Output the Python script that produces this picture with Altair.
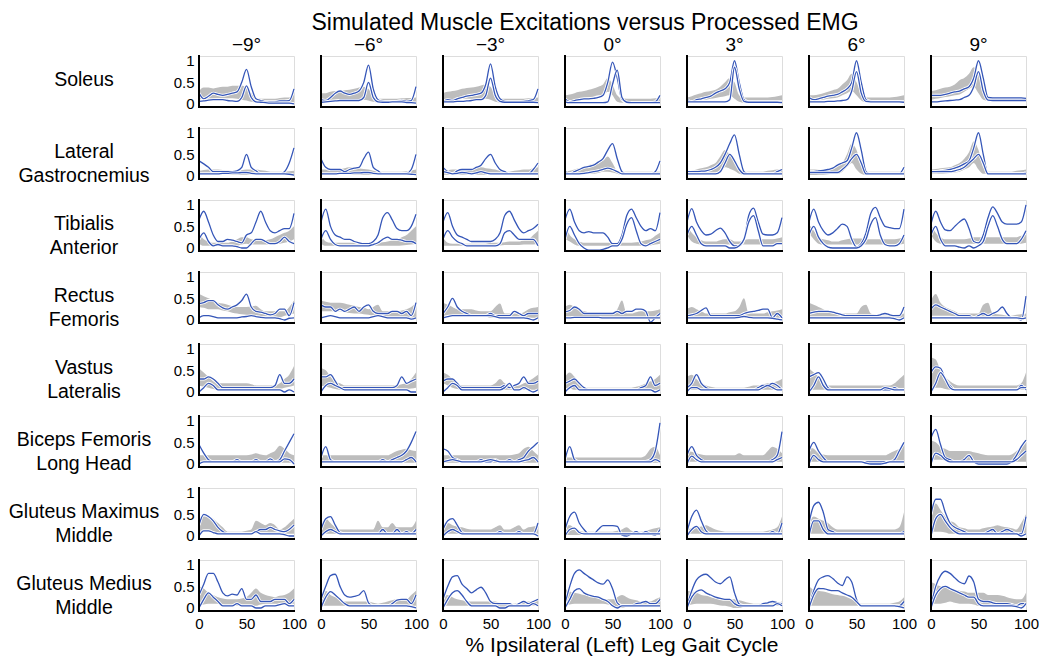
import altair as alt
import pandas as pd

FONT = "Liberation Sans"
PCT = list(range(0, 101, 5))
ANGLES = [-9, -6, -3, 0, 3, 6, 9]
MUSCLES = ["Soleus", "Lateral|Gastrocnemius", "Tibialis|Anterior", "Rectus|Femoris",
           "Vastus|Lateralis", "Biceps Femoris|Long Head", "Gluteus Maximus|Middle",
           "Gluteus Medius|Middle"]
TITLE = "Simulated Muscle Excitations versus Processed EMG"
XTITLE = "% Ipsilateral (Left) Leg Gait Cycle"
X_TICKS = [0, 50, 100]
Y_TICKS = [0, 0.5, 1]

# ---------------- Soleus ----------------
SOL_A = [
    [0.25,0.12,0.18,0.25,0.22,0.2,0.22,0.25,0.28,0.5,0.8,0.4,0.12,0.08,0.05,0.05,0.05,0.07,0.07,0.08,0.35],
    [0.1,0.08,0.15,0.25,0.3,0.25,0.22,0.25,0.3,0.5,0.9,0.35,0.1,0.06,0.05,0.05,0.06,0.08,0.06,0.08,0.4],
    [0.05,0.1,0.08,0.12,0.15,0.18,0.2,0.22,0.25,0.45,0.93,0.4,0.12,0.06,0.05,0.05,0.05,0.06,0.08,0.1,0.35],
    [0.12,0.05,0.08,0.1,0.12,0.12,0.13,0.15,0.2,0.5,0.97,0.6,0.1,0.04,0.03,0.03,0.03,0.03,0.03,0.05,0.2],
    [0.1,0.05,0.1,0.12,0.15,0.18,0.25,0.3,0.35,0.5,1.0,0.5,0.1,0.05,0.05,0.05,0.05,0.05,0.05,0.05,0.05],
    [0.15,0.1,0.12,0.15,0.18,0.2,0.22,0.28,0.35,0.5,1.0,0.5,0.1,0.06,0.05,0.05,0.05,0.05,0.05,0.05,0.05],
    [0.2,0.2,0.2,0.22,0.25,0.28,0.3,0.35,0.4,0.6,1.0,0.6,0.15,0.14,0.14,0.14,0.14,0.14,0.14,0.14,0.13],
]
SOL_B = [
    [0.06,0.07,0.09,0.1,0.1,0.1,0.08,0.07,0.06,0.15,0.42,0.15,0.05,0.04,0.03,0.02,0.02,0.02,0.02,0.02,0.0],
    [0.04,0.05,0.06,0.07,0.08,0.08,0.08,0.08,0.08,0.15,0.5,0.15,0.05,0.04,0.04,0.05,0.05,0.05,0.03,0.03,0.02],
    [0.05,0.05,0.05,0.06,0.06,0.07,0.08,0.1,0.1,0.2,0.6,0.2,0.06,0.04,0.04,0.04,0.04,0.04,0.04,0.04,0.03],
    [0.05,0.03,0.03,0.03,0.03,0.03,0.03,0.03,0.03,0.05,0.45,0.78,0.15,0.04,0.03,0.03,0.03,0.03,0.03,0.03,0.03],
    [0.05,0.05,0.05,0.05,0.05,0.05,0.05,0.05,0.05,0.1,0.85,0.35,0.06,0.04,0.04,0.04,0.04,0.04,0.04,0.04,0.03],
    [0.05,0.05,0.05,0.05,0.06,0.06,0.07,0.08,0.1,0.3,0.75,0.25,0.06,0.05,0.05,0.05,0.05,0.05,0.05,0.05,0.04],
    [0.05,0.05,0.06,0.07,0.08,0.09,0.1,0.15,0.2,0.4,0.75,0.3,0.09,0.08,0.08,0.08,0.08,0.08,0.08,0.08,0.08],
]
SOL_LO = [
    [0.1,0.12,0.12,0.12,0.13,0.13,0.13,0.13,0.12,0.1,0.08,0.05,0.03,0.03,0.03,0.03,0.03,0.03,0.03,0.03,0.04],
    [0.1,0.1,0.1,0.1,0.1,0.1,0.1,0.1,0.1,0.1,0.08,0.05,0.03,0.03,0.03,0.03,0.03,0.03,0.03,0.03,0.03],
    [0.1,0.1,0.1,0.1,0.12,0.12,0.12,0.12,0.12,0.12,0.1,0.05,0.03,0.03,0.03,0.03,0.03,0.03,0.03,0.03,0.03],
    [0.08,0.08,0.1,0.12,0.14,0.15,0.17,0.2,0.2,0.28,0.2,0.05,0.03,0.03,0.03,0.03,0.03,0.03,0.03,0.03,0.03],
    [0.05,0.06,0.08,0.1,0.1,0.12,0.14,0.16,0.18,0.2,0.12,0.05,0.03,0.03,0.03,0.03,0.03,0.03,0.03,0.03,0.03],
    [0.05,0.06,0.08,0.1,0.12,0.13,0.15,0.2,0.25,0.3,0.2,0.08,0.04,0.04,0.04,0.04,0.04,0.04,0.04,0.04,0.05],
    [0.1,0.12,0.14,0.16,0.18,0.2,0.22,0.28,0.35,0.4,0.25,0.1,0.08,0.08,0.08,0.08,0.08,0.08,0.08,0.08,0.08],
]
SOL_HI = [
    [0.3,0.38,0.38,0.36,0.38,0.4,0.4,0.42,0.42,0.42,0.38,0.25,0.15,0.12,0.12,0.12,0.12,0.14,0.15,0.15,0.3],
    [0.25,0.25,0.28,0.3,0.3,0.32,0.33,0.35,0.38,0.4,0.35,0.2,0.12,0.12,0.12,0.12,0.12,0.13,0.14,0.14,0.15],
    [0.25,0.28,0.3,0.32,0.35,0.37,0.38,0.4,0.43,0.45,0.4,0.2,0.12,0.12,0.12,0.12,0.12,0.12,0.13,0.14,0.15],
    [0.2,0.22,0.25,0.28,0.3,0.33,0.36,0.4,0.45,0.6,0.45,0.2,0.13,0.12,0.12,0.12,0.12,0.12,0.12,0.13,0.15],
    [0.15,0.18,0.22,0.25,0.28,0.3,0.33,0.4,0.5,0.6,0.5,0.2,0.15,0.15,0.15,0.15,0.15,0.15,0.16,0.18,0.2],
    [0.2,0.2,0.22,0.25,0.28,0.32,0.35,0.45,0.55,0.7,0.5,0.25,0.15,0.15,0.15,0.15,0.15,0.15,0.16,0.18,0.2],
    [0.3,0.32,0.35,0.38,0.4,0.45,0.55,0.6,0.7,0.85,0.7,0.3,0.15,0.15,0.15,0.15,0.15,0.15,0.15,0.15,0.15],
]

# ---------------- Lateral Gastrocnemius ----------------
LG_A = [
    [0.35,0.28,0.2,0.1,0.1,0.1,0.1,0.1,0.12,0.2,0.5,0.2,0.12,0.05,0.05,0.05,0.05,0.05,0.1,0.3,0.65],
    [0.4,0.2,0.15,0.15,0.15,0.1,0.15,0.18,0.2,0.4,0.55,0.2,0.12,0.05,0.05,0.05,0.05,0.05,0.06,0.15,0.5],
    [0.2,0.1,0.05,0.12,0.15,0.15,0.15,0.2,0.25,0.4,0.5,0.3,0.15,0.1,0.05,0.05,0.05,0.05,0.05,0.15,0.3],
    [0.1,0.05,0.1,0.15,0.2,0.22,0.25,0.32,0.4,0.6,0.75,0.4,0.1,0.05,0.05,0.05,0.05,0.05,0.05,0.1,0.35],
    [0.1,0.1,0.1,0.11,0.12,0.15,0.2,0.3,0.5,0.75,0.95,0.5,0.1,0.05,0.05,0.05,0.05,0.05,0.05,0.1,0.15],
    [0.1,0.1,0.12,0.13,0.15,0.18,0.25,0.3,0.35,0.65,1.0,0.6,0.1,0.05,0.05,0.05,0.05,0.05,0.05,0.05,0.2],
    [0.1,0.1,0.12,0.13,0.15,0.18,0.22,0.28,0.35,0.65,1.0,0.5,0.05,0.05,0.05,0.05,0.05,0.05,0.05,0.05,0.08],
]
LG_B = [
    [0.05,0.05,0.05,0.05,0.05,0.06,0.06,0.07,0.07,0.08,0.08,0.06,0.05,0.05,0.05,0.05,0.05,0.05,0.05,0.04,0.02],
    [0.05,0.05,0.05,0.05,0.06,0.06,0.06,0.07,0.07,0.08,0.08,0.06,0.05,0.05,0.05,0.05,0.05,0.05,0.05,0.04,0.03],
    [0.1,0.08,0.05,0.06,0.08,0.07,0.05,0.07,0.1,0.07,0.05,0.05,0.05,0.05,0.05,0.05,0.05,0.05,0.05,0.05,0.05],
    [0.05,0.05,0.05,0.05,0.06,0.08,0.1,0.12,0.15,0.18,0.15,0.1,0.05,0.05,0.05,0.05,0.05,0.05,0.05,0.05,0.05],
    [0.05,0.05,0.05,0.05,0.05,0.05,0.05,0.1,0.3,0.5,0.35,0.15,0.05,0.05,0.05,0.05,0.05,0.05,0.05,0.05,0.05],
    [0.08,0.08,0.08,0.08,0.08,0.08,0.08,0.15,0.25,0.4,0.5,0.3,0.05,0.05,0.05,0.05,0.05,0.05,0.05,0.05,0.05],
    [0.1,0.1,0.1,0.1,0.1,0.12,0.15,0.2,0.3,0.4,0.5,0.3,0.05,0.05,0.05,0.05,0.05,0.05,0.05,0.05,0.05],
]
LG_LO = [
    [0.03]*21,
    [0.03]*21,
    [0.03]*21,
    [0.02,0.02,0.03,0.03,0.04,0.05,0.05,0.07,0.1,0.1,0.08,0.05,0.02,0.02,0.02,0.02,0.02,0.02,0.02,0.02,0.02],
    [0.02,0.02,0.03,0.03,0.04,0.05,0.05,0.1,0.2,0.17,0.12,0.05,0.03,0.03,0.03,0.03,0.03,0.03,0.03,0.03,0.05],
    [0.02,0.02,0.03,0.03,0.04,0.05,0.05,0.1,0.2,0.3,0.15,0.05,0.02,0.02,0.02,0.02,0.02,0.02,0.02,0.02,0.02],
    [0.05,0.05,0.05,0.06,0.07,0.08,0.1,0.15,0.2,0.3,0.15,0.05,0.05,0.05,0.05,0.05,0.05,0.05,0.05,0.05,0.05],
]
LG_HI = [
    [0.12,0.14,0.15,0.15,0.15,0.14,0.13,0.12,0.12,0.13,0.15,0.15,0.15,0.13,0.12,0.1,0.1,0.1,0.1,0.11,0.12],
    [0.15,0.15,0.15,0.15,0.16,0.18,0.2,0.2,0.18,0.16,0.15,0.12,0.1,0.1,0.1,0.1,0.1,0.1,0.11,0.13,0.15],
    [0.12,0.13,0.15,0.15,0.15,0.17,0.18,0.2,0.2,0.18,0.17,0.15,0.12,0.1,0.1,0.12,0.13,0.15,0.15,0.18,0.2],
    [0.1,0.12,0.15,0.18,0.2,0.25,0.28,0.32,0.35,0.45,0.3,0.12,0.1,0.1,0.1,0.1,0.1,0.1,0.1,0.1,0.1],
    [0.1,0.12,0.15,0.18,0.2,0.25,0.3,0.45,0.6,0.5,0.4,0.15,0.1,0.1,0.1,0.1,0.1,0.12,0.13,0.15,0.15],
    [0.15,0.15,0.15,0.15,0.15,0.2,0.25,0.3,0.5,0.75,0.6,0.25,0.1,0.1,0.1,0.1,0.1,0.1,0.1,0.1,0.1],
    [0.15,0.16,0.18,0.19,0.2,0.25,0.3,0.4,0.55,0.8,0.6,0.2,0.1,0.1,0.1,0.1,0.1,0.1,0.12,0.13,0.15],
]

# ---------------- Tibialis Anterior ----------------
TA_A = [
    [0.65,0.85,0.6,0.3,0.15,0.15,0.2,0.18,0.15,0.12,0.3,0.35,0.6,0.85,0.6,0.4,0.35,0.4,0.45,0.45,0.8],
    [0.6,0.9,0.5,0.3,0.25,0.2,0.2,0.15,0.12,0.1,0.1,0.15,0.3,0.7,0.82,0.65,0.45,0.4,0.4,0.5,0.78],
    [0.6,0.82,0.5,0.3,0.25,0.2,0.15,0.15,0.15,0.15,0.15,0.2,0.35,0.75,0.85,0.65,0.45,0.35,0.4,0.45,0.55],
    [0.65,0.9,0.6,0.4,0.35,0.38,0.35,0.35,0.35,0.25,0.1,0.1,0.3,0.75,0.9,0.7,0.5,0.4,0.45,0.4,0.82],
    [0.6,0.91,0.6,0.4,0.3,0.32,0.4,0.46,0.35,0.15,0.05,0.05,0.2,0.75,0.92,0.6,0.32,0.3,0.3,0.35,0.7],
    [0.6,0.9,0.6,0.4,0.3,0.35,0.45,0.55,0.5,0.2,0.02,0.1,0.35,0.8,0.94,0.7,0.5,0.47,0.45,0.45,0.9],
    [0.55,0.85,0.6,0.42,0.4,0.5,0.6,0.67,0.45,0.15,0.12,0.3,0.7,0.95,0.8,0.6,0.55,0.55,0.55,0.6,1.0],
]
TA_B = [
    [0.2,0.35,0.15,0.05,0.08,0.05,0.05,0.05,0.03,0.0,0.0,0.1,0.2,0.2,0.15,0.1,0.1,0.15,0.25,0.15,0.1],
    [0.2,0.4,0.2,0.08,0.05,0.05,0.05,0.05,0.05,0.05,0.05,0.08,0.12,0.2,0.25,0.2,0.2,0.18,0.15,0.15,0.1],
    [0.2,0.4,0.25,0.15,0.1,0.05,0.05,0.05,0.05,0.05,0.05,0.05,0.1,0.35,0.4,0.3,0.2,0.2,0.2,0.2,0.05],
    [0.2,0.5,0.3,0.1,0.0,-0.05,-0.05,-0.05,-0.03,0.0,0.05,0.05,0.2,0.55,0.7,0.4,0.1,0.05,0.1,0.15,0.2],
    [0.3,0.5,0.3,0.1,0.05,0.05,0.05,0.05,0.05,0.0,0.0,0.05,0.2,0.6,0.75,0.4,0.05,0.05,0.05,0.1,0.1],
    [0.3,0.5,0.25,0.1,0.02,0.0,0.0,0.0,0.0,0.0,0.0,0.05,0.2,0.55,0.7,0.3,0.08,0.05,0.05,0.1,0.3],
    [0.3,0.5,0.2,0.05,0.05,0.05,0.02,0.0,0.05,0.0,0.05,0.15,0.5,0.75,0.5,0.2,0.1,0.1,0.1,0.2,0.4],
]
TA_LO = [
    [0.1,0.05,0.05,0.05,0.05,0.05,0.05,0.05,0.05,0.08,0.1,0.08,0.08,0.08,0.08,0.08,0.1,0.1,0.12,0.15,0.2],
    [0.1,0.05,0.05,0.05,0.05,0.05,0.05,0.05,0.05,0.05,0.05,0.05,0.05,0.05,0.05,0.05,0.05,0.06,0.07,0.08,0.1],
    [0.05,0.05,0.05,0.05,0.05,0.05,0.05,0.05,0.05,0.05,0.06,0.06,0.06,0.07,0.07,0.07,0.07,0.08,0.08,0.08,0.1],
    [0.2,0.15,0.08,0.05,0.05,0.05,0.05,0.05,0.05,0.05,0.05,0.05,0.05,0.05,0.05,0.05,0.05,0.05,0.06,0.08,0.1],
    [0.3,0.15,0.1,0.08,0.08,0.08,0.08,0.08,0.08,0.08,0.08,0.08,0.08,0.08,0.08,0.08,0.08,0.08,0.08,0.08,0.1],
    [0.35,0.2,0.1,0.08,0.08,0.08,0.08,0.08,0.08,0.08,0.08,0.08,0.08,0.08,0.08,0.08,0.08,0.08,0.08,0.08,0.1],
    [0.3,0.15,0.1,0.1,0.1,0.1,0.1,0.1,0.1,0.1,0.1,0.1,0.1,0.1,0.1,0.1,0.1,0.1,0.1,0.1,0.12],
]
TA_HI = [
    [0.35,0.2,0.15,0.12,0.12,0.12,0.12,0.15,0.2,0.25,0.25,0.2,0.18,0.18,0.18,0.2,0.25,0.3,0.35,0.4,0.5],
    [0.3,0.15,0.12,0.12,0.12,0.12,0.12,0.12,0.12,0.12,0.12,0.12,0.12,0.13,0.15,0.18,0.2,0.25,0.3,0.4,0.5],
    [0.25,0.12,0.1,0.1,0.1,0.1,0.1,0.1,0.1,0.1,0.12,0.12,0.12,0.13,0.15,0.15,0.15,0.18,0.2,0.3,0.4],
    [0.5,0.3,0.2,0.15,0.12,0.12,0.12,0.12,0.12,0.12,0.12,0.12,0.12,0.12,0.12,0.13,0.15,0.18,0.2,0.28,0.35],
    [0.5,0.35,0.25,0.18,0.15,0.15,0.15,0.18,0.2,0.2,0.15,0.15,0.18,0.2,0.2,0.2,0.2,0.2,0.2,0.22,0.25],
    [0.55,0.4,0.25,0.2,0.18,0.15,0.15,0.18,0.2,0.22,0.22,0.22,0.2,0.2,0.2,0.2,0.2,0.2,0.2,0.22,0.25],
    [0.55,0.35,0.25,0.2,0.2,0.2,0.2,0.2,0.22,0.25,0.25,0.25,0.25,0.25,0.25,0.25,0.25,0.25,0.25,0.28,0.3],
]

# ---------------- Rectus Femoris ----------------
RF_A = [
    [0.38,0.4,0.45,0.45,0.35,0.28,0.25,0.3,0.35,0.45,0.6,0.3,0.2,0.18,0.15,0.12,0.15,0.25,0.25,0.1,0.4],
    [0.35,0.3,0.3,0.2,0.25,0.2,0.25,0.3,0.2,0.3,0.35,0.2,0.15,0.15,0.15,0.2,0.2,0.15,0.2,0.1,0.4],
    [0.15,0.3,0.5,0.3,0.2,0.15,0.1,0.1,0.1,0.1,0.15,0.1,0.1,0.1,0.1,0.2,0.15,0.1,0.15,0.15,0.15],
    [0.19,0.22,0.3,0.25,0.15,0.15,0.15,0.15,0.15,0.15,0.15,0.2,0.15,0.2,0.2,0.25,0.25,0.2,-0.05,0.05,0.15],
    [0.1,0.12,0.15,0.22,0.28,0.1,0.1,0.1,0.1,0.1,0.1,0.1,0.15,0.18,0.2,0.22,0.25,0.25,0.05,0.15,0.05],
    [0.15,0.18,0.2,0.2,0.2,0.18,0.15,0.12,0.1,0.1,0.1,0.1,0.1,0.1,0.1,0.12,0.15,0.12,0.1,0.1,0.3],
    [0.25,0.35,0.3,0.25,0.2,0.15,0.1,0.1,0.1,0.05,0.1,0.15,0.1,0.15,0.2,0.3,0.15,0.05,0.05,0.0,0.55],
]
RF_B = [
    [0.05,0.1,0.1,0.08,0.05,0.05,0.05,0.05,0.05,0.07,0.08,0.1,0.08,0.06,0.05,0.05,0.05,0.03,0.0,0.04,0.05],
    [0.05,0.08,0.1,0.08,0.05,0.05,0.05,0.05,0.05,0.05,0.05,0.08,0.1,0.08,0.05,0.05,0.05,0.05,0.05,0.02,0.05],
    [0.05,0.08,0.1,0.1,0.1,0.1,0.1,0.1,0.1,0.1,0.1,0.08,0.05,0.05,0.05,0.05,0.05,0.05,0.03,0.0,0.05],
    [0.05,0.05,0.06,0.06,0.06,0.06,0.06,0.06,0.05,0.05,0.05,0.05,0.05,0.05,0.05,0.05,0.05,0.05,0.05,0.05,0.05],
    [0.05,0.05,0.05,0.05,0.05,0.05,0.05,0.05,0.05,0.05,0.05,0.06,0.08,0.06,0.05,0.05,0.05,0.05,0.04,0.02,0.0],
    [0.05,0.05,0.05,0.05,0.05,0.05,0.05,0.05,0.05,0.05,0.05,0.05,0.05,0.05,0.05,0.05,0.05,0.05,0.03,0.0,0.05],
    [0.05,0.05,0.05,0.05,0.05,0.05,0.05,0.05,0.05,0.05,0.05,0.05,0.05,0.05,0.05,0.05,0.05,0.05,0.05,0.03,0.05],
]
RF_LO = [
    [0.3,0.28,0.25,0.25,0.25,0.22,0.2,0.17,0.15,0.13,0.12,0.11,0.1,0.09,0.08,0.07,0.05,0.06,0.1,0.12,0.15],
    [0.2,0.2,0.2,0.2,0.2,0.18,0.16,0.15,0.15,0.13,0.12,0.1,0.1,0.08,0.07,0.06,0.05,0.05,0.05,0.05,0.05],
    [0.1,0.1,0.1,0.1,0.1,0.1,0.1,0.1,0.1,0.08,0.05,0.05,0.05,0.05,0.05,0.05,0.05,0.05,0.05,0.05,0.05],
    [0.05]*21,
    [0.05]*21,
    [0.05]*21,
    [0.1,0.1,0.1,0.1,0.1,0.08,0.06,0.05,0.05,0.05,0.05,0.05,0.05,0.05,0.05,0.05,0.05,0.05,0.05,0.05,0.05],
]
RF_HI = [
    [0.6,0.55,0.5,0.45,0.4,0.38,0.35,0.32,0.3,0.3,0.3,0.32,0.33,0.25,0.2,0.2,0.2,0.2,0.2,0.3,0.45],
    [0.45,0.42,0.4,0.4,0.4,0.38,0.35,0.33,0.3,0.28,0.25,0.3,0.35,0.2,0.2,0.2,0.2,0.22,0.25,0.3,0.4],
    [0.4,0.35,0.3,0.25,0.25,0.25,0.25,0.22,0.2,0.2,0.2,0.3,0.38,0.15,0.15,0.15,0.15,0.18,0.25,0.28,0.3],
    [0.3,0.35,0.3,0.25,0.2,0.18,0.15,0.15,0.15,0.15,0.15,0.25,0.45,0.15,0.15,0.18,0.2,0.2,0.2,0.22,0.25],
    [0.25,0.3,0.25,0.2,0.15,0.15,0.15,0.15,0.15,0.18,0.2,0.3,0.5,0.15,0.15,0.15,0.15,0.18,0.2,0.22,0.25],
    [0.4,0.35,0.3,0.25,0.2,0.18,0.15,0.15,0.15,0.15,0.15,0.3,0.35,0.15,0.12,0.1,0.1,0.1,0.12,0.13,0.15],
    [0.45,0.6,0.4,0.3,0.25,0.2,0.15,0.15,0.15,0.15,0.15,0.35,0.4,0.15,0.13,0.12,0.1,0.1,0.12,0.13,0.15],
]

# ---------------- Vastus Lateralis ----------------
VL_A = [
    [0.3,0.3,0.35,0.3,0.2,0.1,0.1,0.1,0.1,0.1,0.1,0.1,0.1,0.1,0.1,0.1,0.15,0.4,0.2,0.2,0.3],
    [0.35,0.35,0.4,0.25,0.1,0.1,0.1,0.1,0.1,0.1,0.1,0.1,0.1,0.1,0.1,0.1,0.15,0.35,0.2,0.25,0.3],
    [0.25,0.3,0.3,0.2,0.1,0.1,0.1,0.1,0.1,0.1,0.1,0.1,0.1,0.15,0.1,0.15,0.2,0.35,0.2,0.2,0.25],
    [0.2,0.25,0.3,0.2,0.1,0.05,0.05,0.05,0.05,0.05,0.05,0.05,0.05,0.05,0.05,0.05,0.1,0.15,0.35,0.15,0.2],
    [0.1,0.2,0.4,0.2,0.1,0.05,0.05,0.05,0.05,0.05,0.05,0.05,0.05,0.05,0.05,0.1,0.15,0.15,0.2,0.15,0.05],
    [0.35,0.4,0.45,0.3,0.1,0.05,0.05,0.05,0.05,0.05,0.05,0.05,0.05,0.05,0.05,0.05,0.05,0.05,0.1,0.05,0.05],
    [0.45,0.58,0.55,0.3,0.15,0.05,0.05,0.05,0.05,0.05,0.05,0.05,0.05,0.05,0.05,0.05,0.05,0.05,0.05,0.15,0.05],
]
VL_B = [
    [0.0,0.1,0.2,0.15,0.05,0.05,0.05,0.05,0.05,0.05,0.05,0.05,0.05,0.05,0.05,0.05,0.05,0.05,0.0,0.05,0.0],
    [0.0,0.15,0.2,0.15,0.1,0.05,0.05,0.05,0.05,0.05,0.05,0.05,0.05,0.05,0.05,0.05,0.05,0.05,0.05,0.0,0.0],
    [0.0,0.1,0.2,0.15,0.05,0.05,0.05,0.05,0.05,0.05,0.05,0.05,0.05,0.1,0.2,0.05,0.05,0.1,0.05,0.0,0.05],
    [0.0,0.1,0.15,0.05,0.05,0.05,0.05,0.05,0.05,0.05,0.05,0.05,0.05,0.05,0.05,0.05,0.05,0.05,0.05,0.0,0.05],
    [0.0,0.1,0.1,0.05,0.05,0.05,0.05,0.05,0.05,0.05,0.05,0.05,0.05,0.05,0.05,0.05,0.1,0.15,0.1,0.05,0.05],
    [0.0,0.15,0.35,0.15,0.05,0.05,0.05,0.05,0.05,0.05,0.05,0.05,0.05,0.05,0.05,0.05,0.1,0.08,0.05,0.05,0.05],
    [0.0,0.2,0.45,0.3,0.1,0.05,0.05,0.05,0.05,0.05,0.05,0.05,0.05,0.05,0.05,0.05,0.05,0.05,0.05,0.1,0.1],
]
VL_LO = [
    [0.15,0.12,0.1,0.07,0.05,0.05,0.05,0.05,0.05,0.05,0.05,0.05,0.05,0.05,0.05,0.05,0.05,0.07,0.1,0.12,0.15],
    [0.15,0.12,0.1,0.07,0.05,0.05,0.05,0.05,0.05,0.05,0.05,0.05,0.05,0.05,0.05,0.05,0.05,0.06,0.07,0.08,0.1],
    [0.2,0.15,0.1,0.07,0.05,0.05,0.05,0.05,0.05,0.05,0.05,0.05,0.05,0.05,0.05,0.05,0.05,0.05,0.05,0.05,0.05],
    [0.1,0.08,0.05,0.05,0.05,0.05,0.05,0.05,0.05,0.05,0.05,0.05,0.05,0.05,0.05,0.05,0.05,0.05,0.05,0.05,0.05],
    [0.05]*21,
    [0.05]*21,
    [0.1,0.1,0.1,0.07,0.05,0.05,0.05,0.05,0.05,0.05,0.05,0.05,0.05,0.05,0.05,0.05,0.05,0.05,0.05,0.05,0.05],
]
VL_HI = [
    [0.55,0.45,0.35,0.25,0.2,0.2,0.2,0.2,0.2,0.2,0.2,0.18,0.15,0.15,0.15,0.15,0.15,0.2,0.3,0.4,0.6],
    [0.55,0.5,0.35,0.25,0.2,0.15,0.15,0.15,0.15,0.15,0.15,0.15,0.15,0.15,0.15,0.15,0.15,0.18,0.2,0.3,0.45],
    [0.45,0.4,0.3,0.2,0.15,0.15,0.15,0.15,0.15,0.15,0.15,0.2,0.3,0.2,0.15,0.15,0.15,0.2,0.25,0.32,0.4],
    [0.35,0.45,0.35,0.2,0.1,0.1,0.1,0.1,0.1,0.1,0.1,0.1,0.1,0.1,0.1,0.12,0.15,0.2,0.25,0.3,0.4],
    [0.35,0.4,0.3,0.2,0.15,0.12,0.1,0.1,0.1,0.1,0.1,0.1,0.1,0.12,0.15,0.15,0.18,0.2,0.22,0.25,0.3],
    [0.55,0.45,0.35,0.2,0.15,0.15,0.15,0.15,0.15,0.15,0.15,0.15,0.15,0.15,0.15,0.15,0.15,0.15,0.2,0.3,0.4],
    [0.8,0.75,0.5,0.35,0.25,0.18,0.15,0.15,0.15,0.15,0.15,0.15,0.15,0.15,0.15,0.15,0.15,0.15,0.15,0.2,0.45],
]

# ---------------- Biceps Femoris Long Head ----------------
BF_A = [
    [0.45,0.25,0.1,0.05,0.05,0.05,0.05,0.05,0.1,0.05,0.05,0.05,0.1,0.05,0.05,0.12,0.05,0.1,0.3,0.5,0.7],
    [0.15,0.4,0.1,0.05,0.05,0.05,0.05,0.05,0.05,0.05,0.05,0.05,0.05,0.1,0.05,0.1,0.15,0.2,0.3,0.5,0.75],
    [0.35,0.3,0.15,0.1,0.05,0.05,0.05,0.05,0.1,0.05,0.05,0.1,0.05,0.05,0.1,0.05,0.1,0.15,0.3,0.4,0.5],
    [0.1,0.4,0.1,0.05,0.05,0.05,0.05,0.05,0.05,0.05,0.05,0.05,0.05,0.05,0.05,0.05,0.05,0.06,0.1,0.3,0.95],
    [0.2,0.4,0.2,0.1,0.05,0.05,0.05,0.05,0.05,0.05,0.05,0.05,0.05,0.05,0.05,0.05,0.05,0.05,0.1,0.2,0.75],
    [0.3,0.5,0.3,0.15,0.05,0.05,0.05,0.05,0.05,0.05,0.05,0.05,0.05,0.05,0.05,0.05,0.05,0.05,0.1,0.3,0.5],
    [0.6,0.8,0.45,0.15,0.1,0.05,0.05,0.1,0.2,0.05,0.0,0.0,0.0,0.0,0.0,0.0,0.0,0.05,0.2,0.4,0.55],
]
BF_B = [
    [0.0,0.05,0.05,0.05,0.05,0.05,0.05,0.05,0.05,0.05,0.05,0.05,0.05,0.05,0.05,0.05,0.05,0.05,0.12,0.1,0.0],
    [0.05,0.05,0.05,0.05,0.05,0.05,0.05,0.05,0.05,0.05,0.05,0.05,0.05,0.05,0.05,0.05,0.05,0.05,0.1,0.15,0.05],
    [0.05,0.08,0.1,0.08,0.05,0.05,0.05,0.05,0.05,0.08,0.1,0.08,0.05,0.05,0.05,0.05,0.05,0.08,0.1,0.15,0.05],
    [0.05,0.05,0.05,0.05,0.05,0.05,0.05,0.05,0.05,0.05,0.05,0.05,0.05,0.05,0.05,0.05,0.05,0.05,0.05,0.1,0.05],
    [0.0,0.18,0.1,0.05,0.05,0.05,0.05,0.05,0.05,0.05,0.05,0.05,0.05,0.05,0.05,0.05,0.05,0.05,0.05,0.1,0.15],
    [0.0,0.2,0.1,0.05,0.05,0.05,0.05,0.05,0.05,0.05,0.05,0.05,0.02,0.0,0.0,0.0,0.02,0.05,0.05,0.05,0.05],
    [0.0,0.25,0.2,0.1,0.05,0.05,0.05,0.05,0.05,0.05,0.05,0.05,0.05,0.05,0.05,0.05,0.05,0.05,0.1,0.2,0.3],
]
BF_LO = [
    [0.03]*21,
    [0.03]*21,
    [0.03]*21,
    [0.03]*21,
    [0.05]*21,
    [0.05]*21,
    [0.1,0.1,0.1,0.08,0.05,0.05,0.05,0.05,0.05,0.05,0.05,0.05,0.05,0.05,0.05,0.05,0.05,0.05,0.05,0.05,0.05],
]
BF_HI = [
    [0.2,0.2,0.2,0.2,0.2,0.2,0.2,0.2,0.2,0.2,0.2,0.22,0.25,0.22,0.2,0.25,0.3,0.42,0.35,0.25,0.2],
    [0.2,0.2,0.2,0.2,0.2,0.2,0.2,0.2,0.2,0.2,0.2,0.2,0.2,0.2,0.2,0.25,0.3,0.33,0.35,0.32,0.3],
    [0.2,0.2,0.2,0.2,0.2,0.2,0.2,0.2,0.2,0.2,0.2,0.2,0.2,0.2,0.2,0.22,0.25,0.35,0.4,0.3,0.2],
    [0.15,0.15,0.15,0.15,0.15,0.15,0.15,0.15,0.15,0.15,0.15,0.15,0.15,0.15,0.15,0.15,0.15,0.2,0.35,0.4,0.2],
    [0.3,0.28,0.25,0.22,0.2,0.2,0.2,0.2,0.2,0.2,0.2,0.25,0.2,0.2,0.2,0.2,0.2,0.3,0.4,0.35,0.25],
    [0.4,0.35,0.25,0.22,0.2,0.2,0.2,0.2,0.2,0.2,0.2,0.2,0.2,0.2,0.2,0.2,0.2,0.25,0.3,0.35,0.45],
    [0.55,0.5,0.4,0.35,0.3,0.3,0.3,0.3,0.3,0.27,0.25,0.22,0.2,0.2,0.2,0.2,0.2,0.22,0.3,0.4,0.5],
]

# ---------------- Gluteus Maximus Middle ----------------
GX_A = [
    [0.25,0.5,0.45,0.35,0.2,0.1,0.05,0.05,0.05,0.05,0.05,0.05,0.1,0.15,0.15,0.2,0.15,0.12,0.1,0.15,0.25],
    [0.15,0.4,0.45,0.25,0.08,0.05,0.05,0.05,0.05,0.05,0.05,0.05,0.05,0.15,0.05,0.05,0.15,0.05,0.1,0.05,0.15],
    [0.15,0.35,0.4,0.25,0.08,0.05,0.05,0.05,0.05,0.05,0.05,0.05,0.1,0.05,0.05,0.05,0.1,0.05,0.05,0.05,0.3],
    [0.15,0.45,0.55,0.3,0.15,0.05,0.05,0.15,0.24,0.24,0.24,0.22,0.02,0.0,0.05,0.1,0.05,0.1,0.05,0.02,0.15],
    [0.1,0.45,0.6,0.35,0.12,0.05,0.05,0.05,0.05,0.05,0.05,0.05,0.05,0.05,0.05,0.05,0.05,0.05,0.1,0.05,0.3],
    [0.3,0.7,0.78,0.55,0.15,0.1,0.05,0.05,0.05,0.05,0.05,0.05,0.05,0.05,0.05,0.05,0.05,0.05,0.05,0.05,0.1],
    [0.5,0.85,0.85,0.55,0.3,0.2,0.15,0.1,0.05,0.05,0.05,0.05,0.1,0.15,0.05,0.1,0.15,0.1,0.05,0.05,0.45],
]
GX_B = [
    [0.0,0.12,0.12,0.08,0.05,0.05,0.05,0.05,0.05,0.05,0.05,0.05,0.1,0.05,0.05,0.05,0.05,0.05,0.03,0.0,0.0],
    [0.0,0.1,0.15,0.1,0.05,0.05,0.05,0.05,0.05,0.05,0.05,0.05,0.05,0.05,0.05,0.05,0.05,0.05,0.05,0.05,0.05],
    [0.0,0.1,0.15,0.1,0.05,0.05,0.05,0.05,0.05,0.05,0.05,0.05,0.05,0.05,0.05,0.05,0.05,0.05,0.05,0.05,0.0],
    [0.0,0.15,0.18,0.08,0.05,0.05,0.05,0.05,0.05,0.05,0.05,0.05,0.05,0.05,0.05,0.05,0.05,0.05,0.05,0.05,0.05],
    [0.0,0.15,0.22,0.1,0.05,0.05,0.05,0.05,0.05,0.05,0.05,0.05,0.05,0.05,0.05,0.05,0.05,0.05,0.05,0.05,0.05],
    [0.0,0.35,0.35,0.15,0.05,0.05,0.05,0.05,0.05,0.05,0.05,0.05,0.05,0.05,0.05,0.05,0.05,0.05,0.05,0.05,0.05],
    [0.0,0.4,0.5,0.35,0.2,0.1,0.05,0.05,0.05,0.05,0.05,0.05,0.05,0.05,0.05,0.05,0.05,0.05,0.05,0.0,0.05],
]
GX_LO = [
    [0.02,0.1,0.1,0.08,0.05,0.05,0.05,0.05,0.05,0.05,0.05,0.05,0.06,0.08,0.08,0.06,0.05,0.05,0.05,0.05,0.05],
    [0.05]*21,
    [0.05]*21,
    [0.02]*21,
    [0.05]*21,
    [0.05]*21,
    [0.1,0.1,0.1,0.08,0.05,0.05,0.05,0.05,0.05,0.05,0.05,0.05,0.05,0.05,0.05,0.05,0.05,0.05,0.05,0.05,0.05],
]
GX_HI = [
    [0.35,0.45,0.45,0.4,0.3,0.2,0.1,0.1,0.1,0.1,0.12,0.15,0.35,0.3,0.25,0.3,0.25,0.15,0.2,0.3,0.4],
    [0.25,0.4,0.3,0.2,0.15,0.15,0.15,0.15,0.15,0.15,0.15,0.15,0.35,0.2,0.2,0.3,0.2,0.2,0.2,0.2,0.35],
    [0.3,0.3,0.25,0.22,0.2,0.17,0.15,0.15,0.15,0.15,0.15,0.2,0.25,0.15,0.15,0.2,0.25,0.15,0.2,0.22,0.25],
    [0.25,0.25,0.18,0.12,0.1,0.1,0.1,0.1,0.1,0.1,0.1,0.12,0.15,0.2,0.12,0.1,0.1,0.12,0.15,0.18,0.2],
    [0.15,0.18,0.2,0.22,0.25,0.2,0.15,0.12,0.1,0.1,0.1,0.1,0.1,0.1,0.1,0.1,0.1,0.12,0.15,0.2,0.45],
    [0.3,0.45,0.4,0.35,0.3,0.2,0.15,0.15,0.15,0.15,0.15,0.15,0.15,0.15,0.15,0.15,0.15,0.15,0.15,0.2,0.55],
    [0.55,0.75,0.6,0.45,0.35,0.3,0.2,0.18,0.15,0.15,0.15,0.18,0.2,0.22,0.25,0.22,0.2,0.18,0.15,0.3,0.5],
]

# ---------------- Gluteus Medius Middle ----------------
GD_A = [
    [0.3,0.55,0.8,0.8,0.6,0.35,0.28,0.32,0.3,0.45,0.2,0.2,0.3,0.15,0.15,0.15,0.2,0.2,0.2,0.1,0.2],
    [0.2,0.5,0.75,0.78,0.5,0.3,0.25,0.27,0.3,0.4,0.12,0.05,0.05,0.05,0.05,0.1,0.18,0.2,0.2,0.1,0.3],
    [0.2,0.5,0.72,0.75,0.55,0.45,0.35,0.42,0.48,0.35,0.15,0.1,0.1,0.1,0.1,0.05,0.1,0.15,0.1,0.15,0.2],
    [0.1,0.5,0.8,0.88,0.8,0.72,0.65,0.58,0.55,0.65,0.45,0.12,0.05,0.05,0.05,0.1,0.12,0.15,0.1,0.1,0.2],
    [0.05,0.4,0.65,0.75,0.78,0.7,0.6,0.56,0.65,0.72,0.35,0.09,0.05,0.05,0.05,0.05,0.1,0.12,0.15,0.12,0.1],
    [0.05,0.4,0.65,0.72,0.75,0.68,0.58,0.52,0.72,0.6,0.2,0.05,0.05,0.05,0.05,0.05,0.05,0.05,0.05,0.05,0.15],
    [0.05,0.5,0.75,0.85,0.8,0.7,0.6,0.56,0.74,0.6,0.2,0.15,0.15,0.12,0.1,0.1,0.1,0.08,0.05,0.1,0.1],
]
GD_B = [
    [0.0,0.2,0.35,0.25,0.15,0.05,0.05,0.05,0.1,0.05,0.05,0.05,0.0,0.0,0.05,0.05,0.05,0.08,0.1,0.05,0.05],
    [0.0,0.25,0.38,0.3,0.2,0.1,0.05,0.05,0.05,0.05,0.05,0.05,0.05,0.05,0.05,0.05,0.05,0.05,0.05,0.03,0.0],
    [0.0,0.2,0.35,0.4,0.3,0.15,0.05,0.05,0.05,0.05,0.05,0.05,0.0,0.0,0.05,0.05,0.05,0.05,0.05,0.1,0.05],
    [0.0,0.2,0.4,0.45,0.35,0.3,0.27,0.25,0.2,0.15,0.05,0.0,0.05,0.05,0.05,0.05,0.05,0.05,0.05,0.05,0.05],
    [0.0,0.25,0.38,0.42,0.35,0.3,0.25,0.22,0.2,0.2,0.1,0.05,0.05,0.05,0.05,0.05,0.05,0.05,0.05,0.1,0.05],
    [0.0,0.3,0.45,0.45,0.42,0.4,0.4,0.35,0.3,0.25,0.15,0.05,0.05,0.05,0.05,0.05,0.05,0.05,0.05,0.03,0.0],
    [0.0,0.3,0.45,0.5,0.45,0.4,0.35,0.3,0.25,0.25,0.1,0.05,0.05,0.05,0.05,0.05,0.05,0.05,0.03,0.0,0.1],
]
GD_LO = [
    [0.05,0.08,0.1,0.1,0.1,0.08,0.05,0.05,0.05,0.05,0.05,0.05,0.05,0.08,0.1,0.1,0.1,0.1,0.1,0.1,0.1],
    [0.05]*21,
    [0.05,0.05,0.05,0.05,0.05,0.05,0.05,0.05,0.05,0.05,0.05,0.02,0.0,0.0,0.05,0.05,0.05,0.05,0.05,0.05,0.05],
    [0.05,0.08,0.1,0.1,0.1,0.1,0.1,0.1,0.1,0.08,0.05,0.02,0.0,0.03,0.05,0.05,0.05,0.05,0.05,0.05,0.05],
    [0.05,0.08,0.1,0.1,0.1,0.1,0.08,0.06,0.05,0.03,0.0,0.0,0.03,0.05,0.05,0.05,0.05,0.05,0.05,0.05,0.05],
    [0.05]*21,
    [0.1,0.1,0.1,0.12,0.15,0.12,0.1,0.1,0.1,0.08,0.05,0.05,0.05,0.05,0.05,0.05,0.05,0.05,0.05,0.05,0.05],
]
GD_HI = [
    [0.5,0.45,0.35,0.3,0.25,0.22,0.2,0.2,0.2,0.22,0.25,0.35,0.45,0.35,0.3,0.27,0.25,0.28,0.3,0.35,0.45],
    [0.35,0.4,0.3,0.25,0.2,0.15,0.15,0.15,0.15,0.15,0.15,0.12,0.1,0.12,0.15,0.18,0.2,0.2,0.2,0.3,0.4],
    [0.25,0.3,0.25,0.2,0.18,0.15,0.15,0.15,0.15,0.15,0.15,0.15,0.12,0.1,0.1,0.1,0.12,0.15,0.15,0.15,0.2],
    [0.45,0.38,0.35,0.33,0.3,0.28,0.25,0.22,0.2,0.2,0.2,0.25,0.3,0.25,0.2,0.18,0.15,0.15,0.15,0.2,0.25],
    [0.4,0.38,0.35,0.3,0.28,0.25,0.22,0.2,0.2,0.2,0.2,0.18,0.15,0.12,0.1,0.1,0.1,0.1,0.1,0.12,0.15],
    [0.5,0.42,0.4,0.38,0.35,0.32,0.3,0.28,0.25,0.2,0.15,0.1,0.1,0.1,0.1,0.1,0.1,0.1,0.12,0.15,0.25],
    [0.6,0.55,0.5,0.48,0.45,0.42,0.4,0.38,0.35,0.35,0.35,0.35,0.3,0.3,0.3,0.28,0.25,0.22,0.2,0.2,0.35],
]

SERIES = [
    (SOL_LO, SOL_HI, SOL_A, SOL_B),
    (LG_LO, LG_HI, LG_A, LG_B),
    (TA_LO, TA_HI, TA_A, TA_B),
    (RF_LO, RF_HI, RF_A, RF_B),
    (VL_LO, VL_HI, VL_A, VL_B),
    (BF_LO, BF_HI, BF_A, BF_B),
    (GX_LO, GX_HI, GX_A, GX_B),
    (GD_LO, GD_HI, GD_A, GD_B),
]

rows = []
for mname, (lo, hi, a, b) in zip(MUSCLES, SERIES):
    for ci, ang in enumerate(ANGLES):
        for k, p in enumerate(PCT):
            rows.append({"muscle": mname, "angle": ang, "pct": p,
                         "lo": lo[ci][k], "hi": hi[ci][k], "a": a[ci][k], "b": b[ci][k]})
df = pd.DataFrame(rows)

BLUE = "#3556b8"
GRAY = "#bdbdbd"
W, H = 95, 51

xs = alt.Scale(domain=[0, 100], nice=False)
ys = alt.Scale(domain=[-0.07, 1.11], nice=False, zero=False)
xax = alt.Axis(values=X_TICKS, labelFlush=False, labelOverlap=False, ticks=False, domain=False,
               grid=False, labelFontSize=15, labelPadding=5, labelColor="black", title=None)
yax = alt.Axis(values=Y_TICKS, format="~g", ticks=False, domain=False, grid=False,
               labelFontSize=15, labelPadding=5, labelColor="black", title=None)

X = alt.X("pct:Q", scale=xs, axis=xax)

band = alt.Chart().mark_area(color=GRAY, interpolate="monotone").encode(
    x=X, y=alt.Y("lo:Q", scale=ys, axis=yax), y2="hi:Q")


def curve(field, color, width):
    return alt.Chart().mark_line(color=color, strokeWidth=width, interpolate="monotone").encode(
        x=X, y=alt.Y(f"{field}:Q", scale=ys, axis=yax))


vrule = alt.Chart().mark_rule(color="black", strokeWidth=2, strokeCap="square").encode(
    x=alt.value(0)).transform_filter("datum.pct == 0")
hrule = alt.Chart().mark_rule(color="black", strokeWidth=2, strokeCap="square").encode(
    y=alt.value(H)).transform_filter("datum.pct == 0")

row_label = alt.Chart().mark_text(align="center", baseline="middle", fontSize=19.5, lineBreak="|",
                                  lineHeight=24, font=FONT, color="black").encode(
    x=alt.value(-115), y=alt.value(24), text="muscle:N"
).transform_filter("datum.pct == 0 && datum.angle == -9")

main_title = alt.Chart().mark_text(text=TITLE, align="center", baseline="middle", fontSize=23,
                                   font=FONT, color="black").encode(
    x=alt.value(20), y=alt.value(-33)
).transform_filter("datum.pct == 0 && datum.angle == 0 && datum.muscle == 'Soleus'")

x_title = alt.Chart().mark_text(text=XTITLE, align="center", baseline="middle", fontSize=21,
                                font=FONT, color="black").encode(
    x=alt.value(57), y=alt.value(H + 35)
).transform_filter("datum.pct == 0 && datum.angle == 0 && datum.muscle == 'Gluteus Medius|Middle'")

panel = alt.layer(band, curve("a", "white", 3), curve("a", BLUE, 1.3),
                  curve("b", "white", 3), curve("b", BLUE, 1.3), vrule, hrule,
                  row_label, main_title, x_title,
                  data=df).properties(width=W, height=H)

chart = panel.facet(
    row=alt.Row("muscle:N", sort=MUSCLES, header=alt.Header(labels=False, title=None)),
    column=alt.Column("angle:O", sort=ANGLES, title=None,
                      header=alt.Header(
                          labelOrient="top", labelFontSize=19, labelPadding=1, labelColor="black",
                          labelExpr="(datum.value < 0 ? '\u2212' : '') + abs(datum.value) + '\u00b0'")),
    spacing={"row": 21, "column": 27},
).properties(
    bounds="flush", padding={"top": 3, "left": 0, "right": 0, "bottom": 0},
).configure_view(stroke=None).configure(font=FONT)

chart.save("out.html", embed_options={"renderer": "svg", "actions": False})
